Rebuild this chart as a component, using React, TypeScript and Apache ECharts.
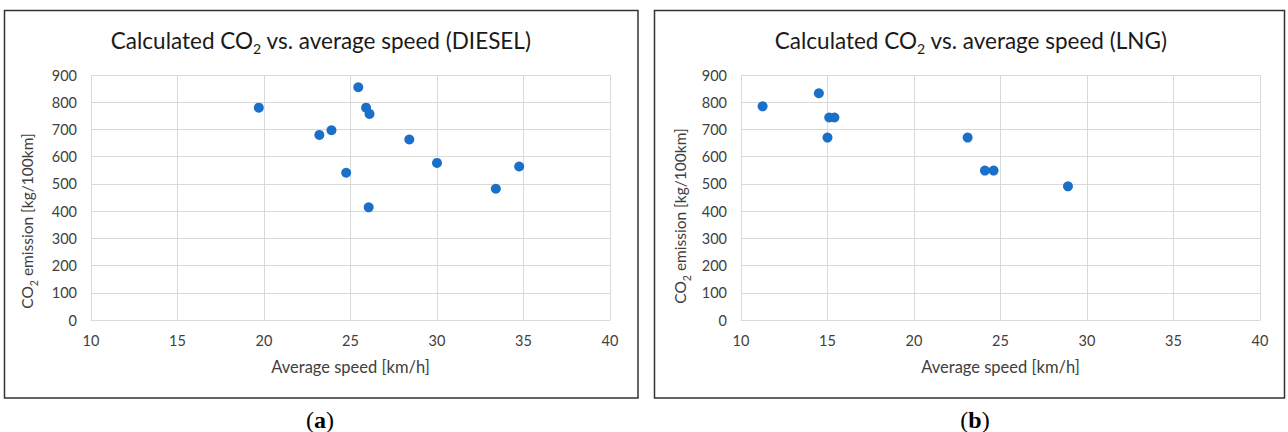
import React, { useEffect, useRef } from "react";
import * as echarts from "echarts";

const dieselSpeed = [19.7, 25.45, 25.9, 26.1, 23.2, 23.9, 28.4, 24.75, 30.0, 33.4, 34.75, 26.05];
const dieselCO2 = [780, 855, 780, 757, 680, 697, 663, 541, 577, 482, 564, 414];

const lngSpeed = [11.25, 14.5, 15.1, 15.4, 15.0, 23.1, 24.1, 24.6, 28.9];
const lngCO2 = [785, 833, 744, 744, 670, 670, 549, 549, 491];

const xTicks = { min: 10, max: 40, interval: 5 };
const yTicks = { min: 0, max: 900, interval: 100 };

const FONT = "Lato";
const MARKER = "#1a70c9";
const GRID = "#d9d9d9";
const LABEL = "#404040";

export default function App() {
  const ref = useRef<HTMLDivElement>(null);
  useEffect(() => {
    document.body.style.margin = "0";
    const chart = echarts.init(ref.current!, null, { renderer: "svg" });
    const titleRich = {
      sub: { fontSize: 14, lineHeight: 12, verticalAlign: "bottom", fontFamily: FONT, color: "#1a1a1a" },
    };
    const mkTitle = (cx: number, label: string) => ({
      text: `Calculated CO{sub|2} vs. average speed (${label})`,
      left: cx,
      top: 20,
      textAlign: "center",
      textStyle: {
        fontFamily: FONT,
        fontSize: 22.5,
        fontWeight: "normal",
        color: "#1a1a1a",
        lineHeight: 30,
        rich: titleRich,
      },
    });
    const xAxisFor = (gi: number) => ({
      type: "value",
      gridIndex: gi,
      min: xTicks.min,
      max: xTicks.max,
      interval: xTicks.interval,
      name: "Average speed [km/h]",
      nameLocation: "middle",
      nameGap: 38,
      nameTextStyle: { fontFamily: FONT, fontSize: 16.5, color: LABEL },
      axisLine: { show: true, lineStyle: { color: GRID, width: 1 } },
      axisTick: { show: false },
      axisLabel: { fontFamily: FONT, fontSize: 14.5, color: LABEL, margin: 13 },
      splitLine: { show: true, lineStyle: { color: GRID, width: 1 } },
    });
    const yAxisFor = (gi: number) => ({
      type: "value",
      gridIndex: gi,
      min: yTicks.min,
      max: yTicks.max,
      interval: yTicks.interval,
      axisLine: { show: false },
      axisTick: { show: false },
      axisLabel: { fontFamily: FONT, fontSize: 14.5, color: LABEL, margin: 14 },
      splitLine: { show: true, lineStyle: { color: GRID, width: 1 } },
    });
    const yName = (x: number, y: number) => ({
      type: "text",
      x,
      y,
      rotation: Math.PI / 2,
      style: {
        text: "CO{sub|2} emission [kg/100km]",
        fontFamily: FONT,
        fontSize: 15.5,
        fill: LABEL,
        align: "center",
        verticalAlign: "middle",
        lineHeight: 24,
        rich: { sub: { fontSize: 10.5, lineHeight: 10, verticalAlign: "bottom", fontFamily: FONT, fill: LABEL } },
      },
    });
    const panelLabel = (x: number, letter: string) => ({
      type: "text",
      x,
      y: 420,
      style: {
        text: `({b|${letter}})`,
        fontFamily: "Liberation Serif",
        fontSize: 24,
        fill: "#000",
        align: "center",
        verticalAlign: "middle",
        rich: { b: { fontFamily: "Liberation Serif", fontSize: 24, fontWeight: "bold", fill: "#000" } },
      },
    });
    const box = (x: number, w: number) => ({
      type: "rect",
      shape: { x, y: 10.5, width: w, height: 387.5 },
      style: { fill: "none", stroke: "#333", lineWidth: 1.5 },
    });
    chart.setOption({
      animation: false,
      backgroundColor: "#fff",
      title: [mkTitle(316, "DIESEL"), mkTitle(966, "LNG")],
      grid: [
        { left: 91, right: 678, top: 75, bottom: 112 },
        { left: 741, right: 28, top: 75, bottom: 112 },
      ],
      xAxis: [xAxisFor(0), xAxisFor(1)],
      yAxis: [yAxisFor(0), yAxisFor(1)],
      series: [
        {
          type: "scatter",
          xAxisIndex: 0,
          yAxisIndex: 0,
          symbolSize: 10,
          itemStyle: { color: MARKER, opacity: 1 },
          data: dieselSpeed.map((s, i) => [s, dieselCO2[i]]),
        },
        {
          type: "scatter",
          xAxisIndex: 1,
          yAxisIndex: 1,
          symbolSize: 10,
          itemStyle: { color: MARKER, opacity: 1 },
          data: lngSpeed.map((s, i) => [s, lngCO2[i]]),
        },
      ],
      graphic: [
        box(4.5, 633.5),
        box(654.5, 630),
        yName(27, 221),
        yName(680, 216),
        panelLabel(320, "a"),
        panelLabel(975, "b"),
      ],
    });
    return () => chart.dispose();
  }, []);
  return <div ref={ref} style={{ width: 1288, height: 432 }} />;
}
